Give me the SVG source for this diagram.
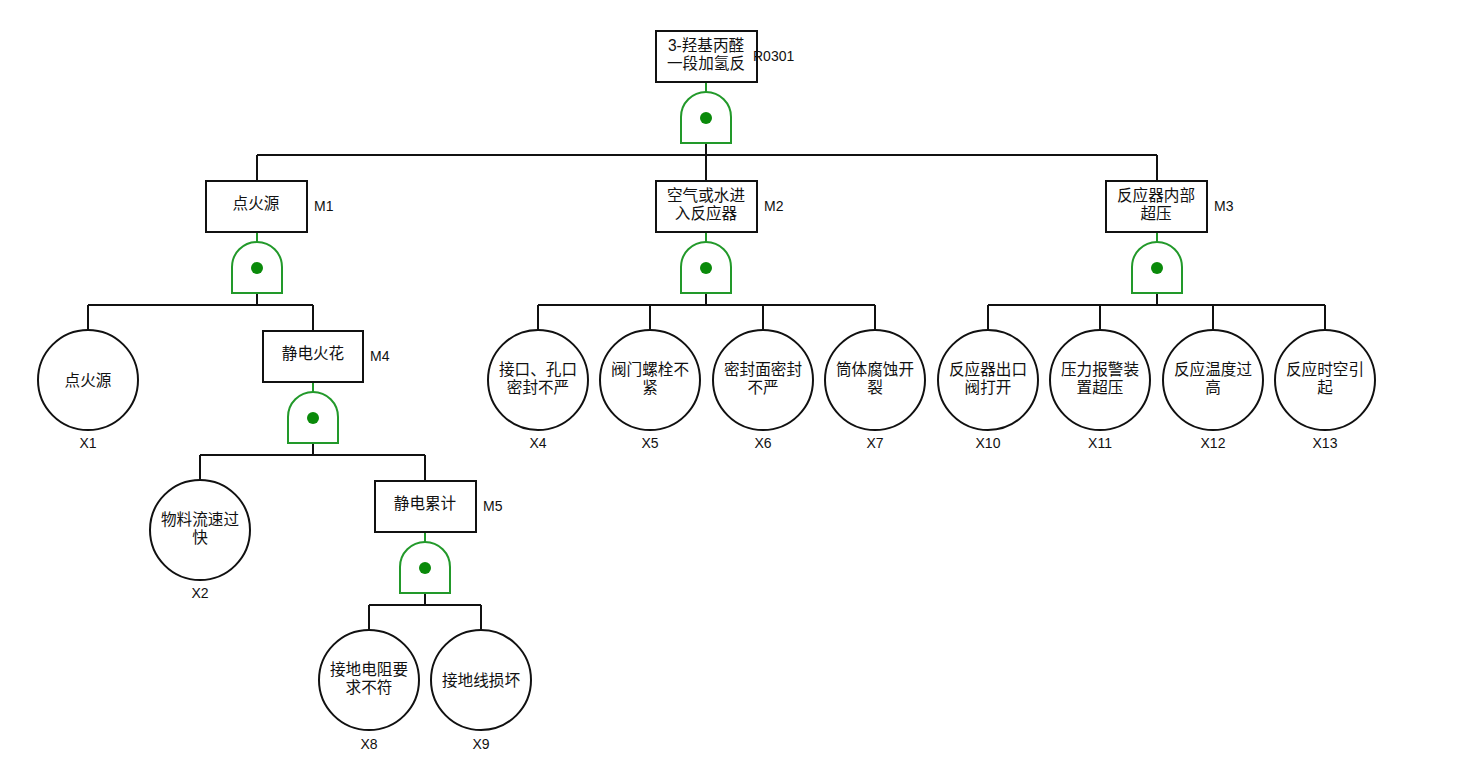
<svg xmlns="http://www.w3.org/2000/svg" width="1470" height="784" viewBox="0 0 1470 784">
<defs>
<style>
.bg{fill:#fff}
.box{fill:#fff;stroke:#111;stroke-width:2}
.ev{fill:#fff;stroke:#111;stroke-width:2}
.ln{fill:none;stroke:#111;stroke-width:2}
.gl{fill:none;stroke:#22992a;stroke-width:2}
.gate{fill:#fff;stroke:#22992a;stroke-width:2}
.dot{fill:#0a8a0a}
.t{font-family:"Liberation Sans","Noto Sans CJK SC",sans-serif;font-size:15.6px;fill:#111;text-anchor:middle}
.lb{font-family:"Liberation Sans","Noto Sans CJK SC",sans-serif;font-size:14px;fill:#111}
.lc{font-family:"Liberation Sans","Noto Sans CJK SC",sans-serif;font-size:14px;fill:#111;text-anchor:middle}
</style>
<g id="andgate">
<path class="gate" d="M-25,51 L-25,25 A25,25 0 0 1 25,25 L25,51 Z"/>
<circle class="dot" cx="0" cy="26" r="6"/>
</g>
</defs>
<rect class="bg" x="0" y="0" width="1470" height="784"/>

<g id="connectors">
<!-- top -->
<line class="gl" x1="706" y1="82" x2="706" y2="92"/>
<line class="ln" x1="706" y1="143" x2="706" y2="155"/>
<line class="ln" x1="257" y1="155" x2="1157" y2="155"/>
<line class="ln" x1="257" y1="155" x2="257" y2="181"/>
<line class="ln" x1="706" y1="155" x2="706" y2="181"/>
<line class="ln" x1="1157" y1="155" x2="1157" y2="181"/>
<!-- M1 -->
<line class="gl" x1="257" y1="232" x2="257" y2="242"/>
<line class="ln" x1="257" y1="293" x2="257" y2="305"/>
<line class="ln" x1="88" y1="305" x2="313" y2="305"/>
<line class="ln" x1="88" y1="305" x2="88" y2="330"/>
<line class="ln" x1="313" y1="305" x2="313" y2="331"/>
<!-- M4 -->
<line class="gl" x1="313" y1="382" x2="313" y2="392"/>
<line class="ln" x1="313" y1="443" x2="313" y2="455"/>
<line class="ln" x1="200" y1="455" x2="425" y2="455"/>
<line class="ln" x1="200" y1="455" x2="200" y2="480"/>
<line class="ln" x1="425" y1="455" x2="425" y2="481"/>
<!-- M5 -->
<line class="gl" x1="425" y1="532" x2="425" y2="542"/>
<line class="ln" x1="425" y1="593" x2="425" y2="605"/>
<line class="ln" x1="369" y1="605" x2="481" y2="605"/>
<line class="ln" x1="369" y1="605" x2="369" y2="630"/>
<line class="ln" x1="481" y1="605" x2="481" y2="630"/>
<!-- M2 -->
<line class="gl" x1="706" y1="232" x2="706" y2="242"/>
<line class="ln" x1="706" y1="293" x2="706" y2="305"/>
<line class="ln" x1="538" y1="305" x2="875" y2="305"/>
<line class="ln" x1="538" y1="305" x2="538" y2="330"/>
<line class="ln" x1="650" y1="305" x2="650" y2="330"/>
<line class="ln" x1="763" y1="305" x2="763" y2="330"/>
<line class="ln" x1="875" y1="305" x2="875" y2="330"/>
<!-- M3 -->
<line class="gl" x1="1157" y1="232" x2="1157" y2="242"/>
<line class="ln" x1="1157" y1="293" x2="1157" y2="305"/>
<line class="ln" x1="988" y1="305" x2="1325" y2="305"/>
<line class="ln" x1="988" y1="305" x2="988" y2="330"/>
<line class="ln" x1="1100" y1="305" x2="1100" y2="330"/>
<line class="ln" x1="1213" y1="305" x2="1213" y2="330"/>
<line class="ln" x1="1325" y1="305" x2="1325" y2="330"/>
</g>

<g id="gates">
<use href="#andgate" x="706" y="92"/>
<use href="#andgate" x="257" y="242"/>
<use href="#andgate" x="706" y="242"/>
<use href="#andgate" x="1157" y="242"/>
<use href="#andgate" x="313" y="392"/>
<use href="#andgate" x="425" y="542"/>
</g>

<g id="R0301">
<rect class="box" x="656" y="31" width="101" height="51"/>
<text class="t" x="706" y="51">3-羟基丙醛</text>
<text class="t" x="706" y="69">一段加氢反</text>
<text class="lb" x="753" y="61">R0301</text>
</g>
<g id="M1">
<rect class="box" x="206" y="181" width="101" height="51"/>
<text class="t" x="256" y="209">点火源</text>
<text class="lb" x="314" y="211">M1</text>
</g>
<g id="M2">
<rect class="box" x="656" y="181" width="101" height="51"/>
<text class="t" x="706" y="201">空气或水进</text>
<text class="t" x="706" y="219">入反应器</text>
<text class="lb" x="764" y="211">M2</text>
</g>
<g id="M3">
<rect class="box" x="1106" y="181" width="101" height="51"/>
<text class="t" x="1156" y="201">反应器内部</text>
<text class="t" x="1156" y="219">超压</text>
<text class="lb" x="1214" y="211">M3</text>
</g>
<g id="M4">
<rect class="box" x="263" y="331" width="100" height="51"/>
<text class="t" x="313" y="359">静电火花</text>
<text class="lb" x="370" y="361">M4</text>
</g>
<g id="M5">
<rect class="box" x="375" y="481" width="101" height="51"/>
<text class="t" x="425" y="509">静电累计</text>
<text class="lb" x="483" y="511">M5</text>
</g>

<g id="X1">
<circle class="ev" cx="88" cy="380" r="50"/>
<text class="t" x="88" y="386">点火源</text>
<text class="lc" x="88" y="448">X1</text>
</g>
<g id="X2">
<circle class="ev" cx="200" cy="530" r="50"/>
<text class="t" x="200" y="525">物料流速过</text>
<text class="t" x="200" y="543">快</text>
<text class="lc" x="200" y="598">X2</text>
</g>
<g id="X8">
<circle class="ev" cx="369" cy="680" r="50"/>
<text class="t" x="369" y="675">接地电阻要</text>
<text class="t" x="369" y="693">求不符</text>
<text class="lc" x="369" y="749">X8</text>
</g>
<g id="X9">
<circle class="ev" cx="481" cy="680" r="50"/>
<text class="t" x="481" y="686">接地线损坏</text>
<text class="lc" x="481" y="749">X9</text>
</g>
<g id="X4">
<circle class="ev" cx="538" cy="380" r="50"/>
<text class="t" x="538" y="375">接口、孔口</text>
<text class="t" x="538" y="393">密封不严</text>
<text class="lc" x="538" y="448">X4</text>
</g>
<g id="X5">
<circle class="ev" cx="650" cy="380" r="50"/>
<text class="t" x="650" y="375">阀门螺栓不</text>
<text class="t" x="650" y="393">紧</text>
<text class="lc" x="650" y="448">X5</text>
</g>
<g id="X6">
<circle class="ev" cx="763" cy="380" r="50"/>
<text class="t" x="763" y="375">密封面密封</text>
<text class="t" x="763" y="393">不严</text>
<text class="lc" x="763" y="448">X6</text>
</g>
<g id="X7">
<circle class="ev" cx="875" cy="380" r="50"/>
<text class="t" x="875" y="375">筒体腐蚀开</text>
<text class="t" x="875" y="393">裂</text>
<text class="lc" x="875" y="448">X7</text>
</g>
<g id="X10">
<circle class="ev" cx="988" cy="380" r="50"/>
<text class="t" x="988" y="375">反应器出口</text>
<text class="t" x="988" y="393">阀打开</text>
<text class="lc" x="988" y="448">X10</text>
</g>
<g id="X11">
<circle class="ev" cx="1100" cy="380" r="50"/>
<text class="t" x="1100" y="375">压力报警装</text>
<text class="t" x="1100" y="393">置超压</text>
<text class="lc" x="1100" y="448">X11</text>
</g>
<g id="X12">
<circle class="ev" cx="1213" cy="380" r="50"/>
<text class="t" x="1213" y="375">反应温度过</text>
<text class="t" x="1213" y="393">高</text>
<text class="lc" x="1213" y="448">X12</text>
</g>
<g id="X13">
<circle class="ev" cx="1325" cy="380" r="50"/>
<text class="t" x="1325" y="375">反应时空引</text>
<text class="t" x="1325" y="393">起</text>
<text class="lc" x="1325" y="448">X13</text>
</g>
</svg>
